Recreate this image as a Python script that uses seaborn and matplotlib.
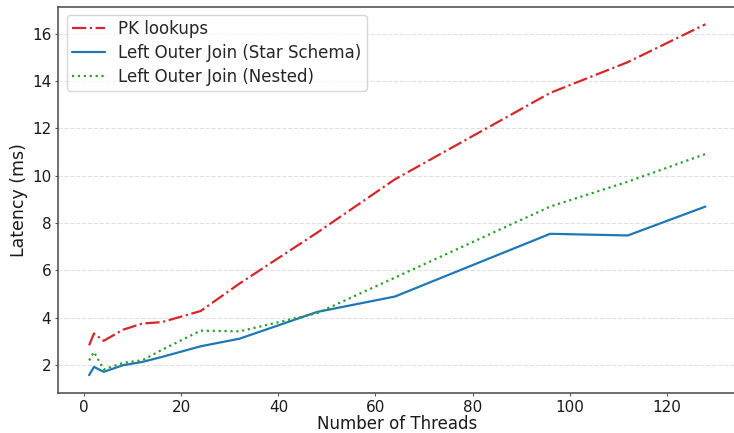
import numpy as np
import pandas as pd
import matplotlib
matplotlib.use("Agg")
import matplotlib.pyplot as plt
import seaborn as sns

threads = [1, 2, 4, 8, 12, 16, 24, 32, 48, 64, 96, 112, 128]
pk_lookups = [2.84, 3.34, 3.03, 3.50, 3.76, 3.82, 4.29, 5.45, 7.60, 9.85, 13.50, 14.80, 16.40]
loj_star = [1.58, 1.93, 1.72, 2.00, 2.14, 2.35, 2.80, 3.12, 4.25, 4.90, 7.55, 7.48, 8.70]
loj_nested = [2.20, 2.56, 1.82, 2.10, 2.21, 2.65, 3.46, 3.43, 4.20, 5.70, 8.70, 9.75, 10.92]

series_names = ["PK lookups", "Left Outer Join (Star Schema)", "Left Outer Join (Nested)"]
colors = ["#d62728", "#1f77b4", "#2ca02c"]
styles = ["-.", "-", ":"]

sns.set_style("white")
plt.rcParams['font.family'] = ['DejaVu Sans']

fig = plt.figure(figsize=(7.34, 4.33), dpi=100)
ax = fig.add_axes([58.3/734, 1 - 392.7/433, 678/734, 386/433])

for name, vals, c, ls in zip(series_names, [pk_lookups, loj_star, loj_nested], colors, styles):
    df = pd.DataFrame({"threads": threads, "latency": vals})
    sns.lineplot(data=df, x="threads", y="latency", ax=ax, color=c, linestyle=ls,
                 linewidth=1.6, label=name)

ax.set_xlabel("Number of Threads", fontsize=12, labelpad=0.5, color='#1a1a1a')
ax.set_ylabel("Latency (ms)", fontsize=12.5, labelpad=3, color='#1a1a1a')
ax.tick_params(axis='both', labelsize=11, length=2.5, width=0.8, pad=2.5,
               left=True, bottom=True, color='#555555', labelcolor='#1a1a1a')
ax.set_xticks([0, 20, 40, 60, 80, 100, 120])
ax.set_yticks([2, 4, 6, 8, 10, 12, 14, 16])
ax.grid(axis='y', linestyle='--', alpha=0.6, color='#cccccc', linewidth=0.8)
ax.grid(axis='x', visible=False)
for s in ax.spines.values():
    s.set_color('#555555')
    s.set_linewidth(1.2)
leg = ax.legend(loc='upper left', fontsize=12, frameon=True, handlelength=2,
                labelspacing=0.35, borderpad=0.3)
leg.get_frame().set_edgecolor('#cccccc')
ax.margins(x=0.05, y=0.05)

fig.savefig("out.png", dpi=100)
